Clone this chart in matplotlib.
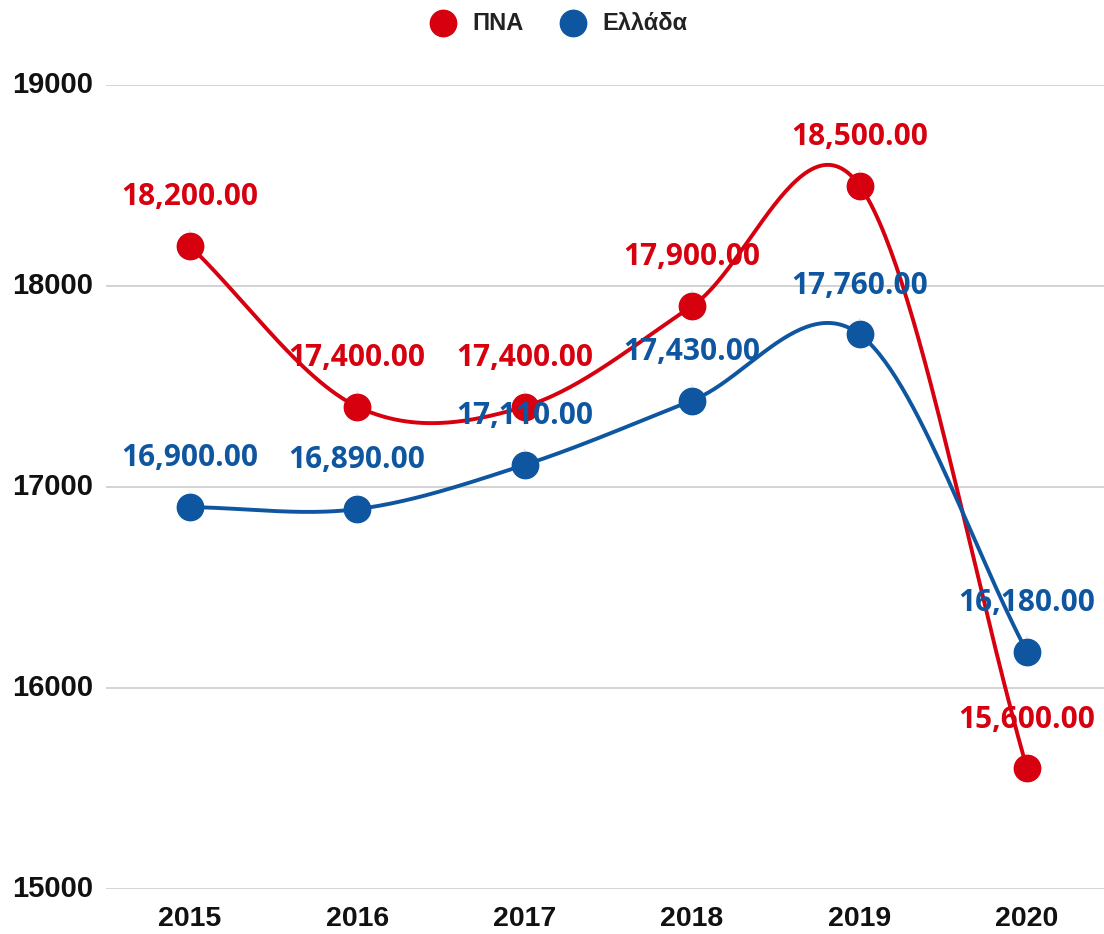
import matplotlib.pyplot as plt
import numpy as np
from matplotlib.lines import Line2D

YEARS = ["2015", "2016", "2017", "2018", "2019", "2020"]
PNA = [18200, 17400, 17400, 17900, 18500, 15600]
ELLADA = [16900, 16890, 17110, 17430, 17760, 16180]
Y_TICKS = [15000, 16000, 17000, 18000, 19000]

RED = "#d6000f"
BLUE = "#0f56a0"
W, H = 1104, 934


def smooth(values, n=60):
    # catmull-rom style curve through the points (like curveType 'function')
    y = np.asarray(values, dtype=float)
    m = np.zeros_like(y)
    m[1:-1] = (y[2:] - y[:-2]) / 2
    m[0] = y[1] - y[0]
    m[-1] = y[-1] - y[-2]
    xs, ys = [], []
    for i in range(len(y) - 1):
        t = np.linspace(0, 1, n)
        h00 = 2 * t**3 - 3 * t**2 + 1
        h10 = t**3 - 2 * t**2 + t
        h01 = -2 * t**3 + 3 * t**2
        h11 = t**3 - t**2
        xs.append(i + t)
        ys.append(h00 * y[i] + h10 * m[i] + h01 * y[i + 1] + h11 * m[i + 1])
    return np.concatenate(xs), np.concatenate(ys)


fig = plt.figure(figsize=(W / 100, H / 100), dpi=100)
ax = fig.add_axes([106 / W, 45 / H, 998 / W, 804 / H])

x = np.arange(len(YEARS))
for vals, col in [(PNA, RED), (ELLADA, BLUE)]:
    sx, sy = smooth(vals)
    ax.plot(sx, sy, color=col, lw=2.8, solid_capstyle="round", zorder=3)
    ax.plot(x, vals, "o", color=col, ms=19, zorder=4)
    for xi, v in zip(x, vals):
        ax.annotate(f"{v:,.2f}", (xi, v), xytext=(0, 35), textcoords="offset points",
                    ha="center", va="center", color=col, fontsize=21.5,
                    fontweight="bold", family="Open Sans", zorder=6,
                    arrowprops=dict(arrowstyle="-", color="#dddddd", lw=0.8,
                                    shrinkA=11, shrinkB=10))

ax.set_xlim(-0.5, 5.46)
ax.set_ylim(15000, 19000)
ax.set_yticks(Y_TICKS)
ax.set_yticklabels([])
ax.grid(axis="y", color="#cccccc", lw=1.2)
ax.set_axisbelow(True)
ax.tick_params(length=0)
for s in ax.spines.values():
    s.set_visible(False)

ax.set_xticks(x)
ax.set_xticklabels(YEARS, fontsize=20.5, fontweight="bold", family="Liberation Sans",
                   color="#111111")
ax.tick_params(axis="x", pad=12)

for t in Y_TICKS:
    ax.text((12 - 106) / 998, t, str(t), transform=ax.get_yaxis_transform(),
            ha="left", va="center", fontsize=21, fontweight="bold",
            family="Liberation Sans", color="#111111")

# legend drawn by hand at top center
for cx, tx, col, label in [(443, 472, RED, "ΠΝΑ"), (573, 602, BLUE, "Ελλάδα")]:
    fig.add_artist(Line2D([cx / W], [1 - 23 / H], marker="o", color=col, ms=19,
                          transform=fig.transFigure))
    fig.text(tx / W, 1 - 23 / H, label, ha="left", va="center", fontsize=17,
             fontweight="bold", family="Liberation Sans", color="#222222")

fig.savefig("out.png", dpi=100)
